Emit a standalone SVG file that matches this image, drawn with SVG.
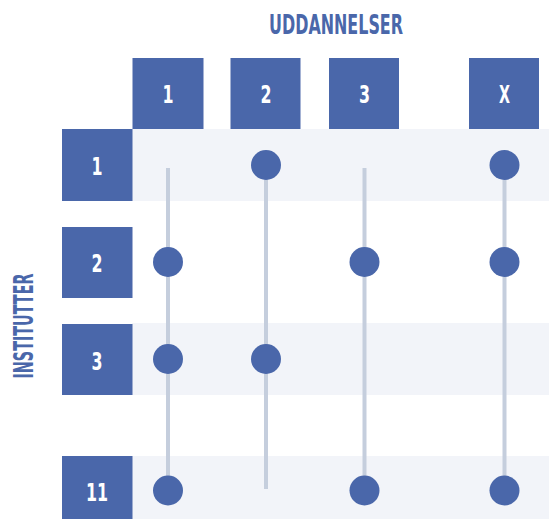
<svg xmlns="http://www.w3.org/2000/svg" width="549" height="519" viewBox="0 0 549 519">
<style>
.box{fill:#4a67aa}
.band{fill:#f2f4f9}
.lbl{fill:#ffffff;font-family:"DejaVu Sans",sans-serif;font-stretch:condensed;font-weight:bold;font-size:25px;text-anchor:middle}
.title{fill:#4a67aa;font-family:"DejaVu Sans",sans-serif;font-stretch:condensed;font-weight:bold;font-size:26px;text-anchor:middle}
.conn{stroke:#c5cedd;stroke-width:4;fill:none}
.dot{fill:#4a67aa}
</style>
<rect width="549" height="519" fill="#ffffff"/>
<g id="bands">
<rect class="band" x="132" y="129" width="417" height="72"/>
<rect class="band" x="132" y="323" width="417" height="72"/>
<rect class="band" x="132" y="456" width="417" height="63"/>
</g>
<text class="title" x="336" y="34" textLength="134" lengthAdjust="spacingAndGlyphs">UDDANNELSER</text>
<text class="title" transform="translate(33,326) rotate(-90)" x="0" y="0" font-size="25" textLength="105" lengthAdjust="spacingAndGlyphs">INSTITUTTER</text>
<g id="connectors">
<line class="conn" x1="168" y1="168" x2="168" y2="490"/>
<line class="conn" x1="266" y1="165" x2="266" y2="489"/>
<line class="conn" x1="364.5" y1="168" x2="364.5" y2="490"/>
<line class="conn" x1="504.5" y1="165" x2="504.5" y2="490"/>
</g>
<g id="col-1"><rect class="box" x="132.5" y="58" width="71" height="71"/><text class="lbl" x="168" y="103" textLength="11" lengthAdjust="spacingAndGlyphs">1</text></g>
<g id="col-2"><rect class="box" x="230.5" y="58" width="70" height="71"/><text class="lbl" x="266" y="103" textLength="11" lengthAdjust="spacingAndGlyphs">2</text></g>
<g id="col-3"><rect class="box" x="329" y="58" width="70" height="71"/><text class="lbl" x="364.5" y="103" textLength="11" lengthAdjust="spacingAndGlyphs">3</text></g>
<g id="col-x"><rect class="box" x="469" y="58" width="70" height="71"/><text class="lbl" x="504.5" y="103" textLength="11" lengthAdjust="spacingAndGlyphs">X</text></g>
<g id="row-1"><rect class="box" x="62" y="129" width="70.5" height="72"/><text class="lbl" x="97" y="174.5" textLength="11" lengthAdjust="spacingAndGlyphs">1</text></g>
<g id="row-2"><rect class="box" x="62" y="227" width="70.5" height="71"/><text class="lbl" x="97" y="271.5" textLength="11" lengthAdjust="spacingAndGlyphs">2</text></g>
<g id="row-3"><rect class="box" x="62" y="324" width="70.5" height="71"/><text class="lbl" x="97" y="369.5" textLength="11" lengthAdjust="spacingAndGlyphs">3</text></g>
<g id="row-11"><rect class="box" x="62" y="456" width="70.5" height="63"/><text class="lbl" x="97" y="500.5" textLength="22" lengthAdjust="spacingAndGlyphs">11</text></g>
<g id="dots">
<circle class="dot" cx="266" cy="165" r="15"/>
<circle class="dot" cx="504.5" cy="165" r="15"/>
<circle class="dot" cx="168" cy="262" r="15"/>
<circle class="dot" cx="364.5" cy="262" r="15"/>
<circle class="dot" cx="504.5" cy="262" r="15"/>
<circle class="dot" cx="168" cy="359" r="15"/>
<circle class="dot" cx="266" cy="359" r="15"/>
<circle class="dot" cx="168" cy="490.5" r="15"/>
<circle class="dot" cx="364.5" cy="490.5" r="15"/>
<circle class="dot" cx="504.5" cy="490.5" r="15"/>
</g>
</svg>
